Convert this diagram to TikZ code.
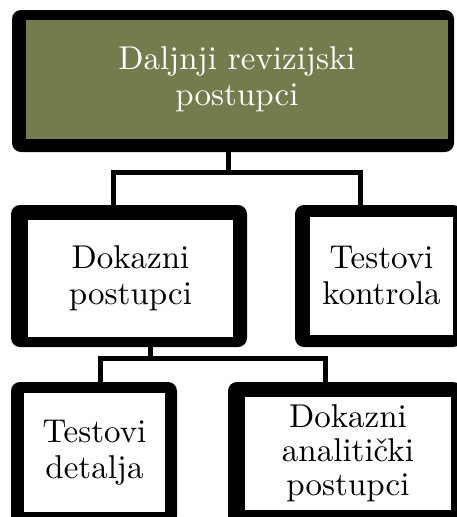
\documentclass[tikz,border=0pt]{standalone}
\usepackage{fontspec}
\setmainfont{lmroman10-regular}[Extension=.otf]
\usepackage{tikz}
\usepackage{xcolor}
\usetikzlibrary{calc}
\usetikzlibrary{positioning}

\definecolor{maslina}{RGB}{116,123,77}
\tikzset{
  okvir/.style={fill=black, rounded corners=9pt, inner sep=0pt, minimum width=#1},
  polje/.style={inner sep=0pt, align=center, font=\fontsize{33}{36}\selectfont, minimum width=#1},
  veza/.style={draw=black, line width=5pt}
}

\begin{document}
\begin{tikzpicture}[x=1pt,y=-1pt]
\useasboundingbox (0,0) rectangle (456,517);

% crni okviri
\node[okvir=442pt, minimum height=142pt] (vrh) at (233,81) {};
\node[okvir=236pt, minimum height=142pt] (dokazni) at (129,276) {};
\node[okvir=167pt, minimum height=142pt] (kontrola) at (378.5,276) {};
\node[okvir=166pt, minimum height=143pt] (detalja) at (94,453.5) {};
\node[okvir=234pt, minimum height=143pt] (analiticki) at (345,453.5) {};

% polja s tekstom
\node[polje=422pt, minimum height=119pt, fill=maslina, text=white] (vrh-t) at (237,79.5) {Daljnji revizijski\\postupci};
\node[polje=205pt, minimum height=117pt, fill=white] (dokazni-t) at (130.5,278.5) {Dokazni\\postupci};
\node[polje=143pt, minimum height=118pt, fill=white] (kontrola-t) at (381.5,276) {Testovi\\kontrola};
\node[polje=141pt, minimum height=119pt, fill=white] (detalja-t) at (94.5,452.5) {Testovi\\detalja};
\node[polje=206pt, minimum height=113pt, fill=white, font=\fontsize{33}{34}\selectfont] (analiticki-t) at (348,453.5) {Dokazni\\analitički\\postupci};

% veze
\coordinate (g0) at (228.5,172);
\coordinate (g1) at (113,172);
\coordinate (g2) at (360,172);
\draw[veza] (vrh.south -| g0) -- (g0);
\draw[veza, line cap=rect] (g1) -- (g2);
\draw[veza] (g1) -- (g1 |- dokazni.north);
\draw[veza] (g2) -- (g2 |- kontrola.north);

\coordinate (d0) at (150,358);
\coordinate (d1) at (100,358);
\coordinate (d2) at (325,358);
\draw[veza] (dokazni.south -| d0) -- (d0);
\draw[veza, line cap=rect] (d1) -- (d2);
\draw[veza] (d1) -- (d1 |- detalja.north);
\draw[veza] (d2) -- (d2 |- analiticki.north);

\end{tikzpicture}
\end{document}
